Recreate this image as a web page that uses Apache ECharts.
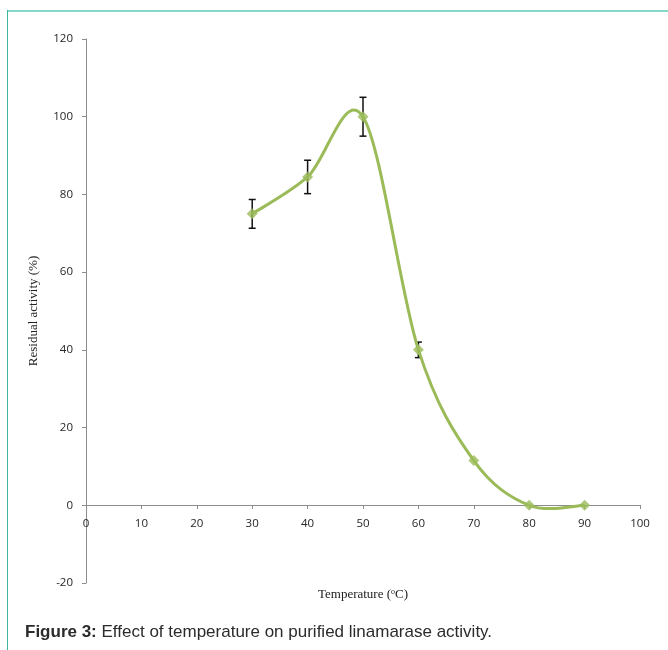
<!DOCTYPE html>
<html>
<head>
<meta charset="utf-8">
<script src="https://cdn.jsdelivr.net/npm/echarts@6/dist/echarts.min.js"></script>
<style>
  html, body { margin: 0; padding: 0; background: #fff; }
  #chart { width: 668px; height: 650px; }
</style>
</head>
<body>
<div id="chart"></div>
<script>
// Temperatures tested (°C) and residual linamarase activity (%)
var temperatures = [30, 40, 50, 60, 70, 80, 90];
var activity = [75, 84.5, 100, 40, 11.5, 0, 0];
var activityError = [3.7, 4.3, 5, 2, 0, 0, 0];

var xTicks = { min: 0, max: 100, interval: 10 };
var yTicks = { min: -20, max: 120, interval: 20 };

var points = temperatures.map(function (t, i) { return [t, activity[i]]; });
var errorData = temperatures
  .map(function (t, i) { return [t, activity[i] - activityError[i], activity[i] + activityError[i]]; })
  .filter(function (d, i) { return activityError[i] > 0; });

var green = '#9bbb59';
var axisGray = '#8c8c8c';
var tickFont = { fontFamily: 'Open Sans, Liberation Sans, sans-serif', fontSize: 11.5, color: '#262626' };
var serifName = { fontFamily: 'Liberation Serif, Times New Roman, serif', fontSize: 13, color: '#222' };

// Cardinal-spline segment between point i and i+1 (tension 1/6), endpoints duplicated
function segmentControls(i) {
  var p0 = points[Math.max(i - 1, 0)];
  var p1 = points[i];
  var p2 = points[i + 1];
  var p3 = points[Math.min(i + 2, points.length - 1)];
  return [
    [p1[0] + (p2[0] - p0[0]) / 6, p1[1] + (p2[1] - p0[1]) / 6],
    [p2[0] - (p3[0] - p1[0]) / 6, p2[1] - (p3[1] - p1[1]) / 6]
  ];
}

var chart = echarts.init(document.getElementById('chart'), null, { renderer: 'canvas' });

chart.setOption({
  animation: false,
  backgroundColor: '#fff',
  grid: [
    // full plotting area, -20 .. 120
    { left: 86, right: 28, top: 39, bottom: 67, outerBoundsMode: 'none' },
    // same width, its bottom edge sits on the zero line and carries the x axis
    { left: 86, right: 28, top: 39, bottom: 145, outerBoundsMode: 'none' }
  ],
  xAxis: [
    {
      gridIndex: 0,
      type: 'value',
      min: xTicks.min, max: xTicks.max, interval: xTicks.interval,
      axisLine: { show: false },
      axisTick: { show: false },
      axisLabel: { show: false },
      splitLine: { show: false },
      name: 'Temperature ({sup|o}C)',
      nameLocation: 'middle',
      nameGap: 5,
      nameTextStyle: Object.assign({}, serifName, {
        verticalAlign: 'top',
        rich: { sup: { fontFamily: 'Liberation Serif, serif', fontSize: 8, verticalAlign: 'top', padding: [0, 0, 5, 0], color: '#222' } }
      })
    },
    {
      gridIndex: 1,
      type: 'value',
      position: 'bottom',
      min: xTicks.min, max: xTicks.max, interval: xTicks.interval,
      axisLine: { show: true, onZero: false, lineStyle: { color: axisGray, width: 1 } },
      axisTick: { show: true, length: 4, lineStyle: { color: axisGray } },
      axisLabel: Object.assign({ margin: 13 }, tickFont),
      splitLine: { show: false }
    }
  ],
  yAxis: [
    {
      gridIndex: 0,
      type: 'value',
      min: yTicks.min, max: yTicks.max, interval: yTicks.interval,
      axisLine: { show: true, onZero: false, lineStyle: { color: axisGray, width: 1 } },
      axisTick: { show: true, length: 4, lineStyle: { color: axisGray } },
      axisLabel: Object.assign({ margin: 13 }, tickFont),
      splitLine: { show: false },
      name: 'Residual activity (%)',
      nameLocation: 'middle',
      nameGap: 46,
      nameTextStyle: serifName
    },
    {
      gridIndex: 1,
      type: 'value',
      min: 0, max: yTicks.max,
      show: false
    }
  ],
  series: [
    {
      // error bars, drawn beneath the curve markers
      type: 'custom',
      xAxisIndex: 0, yAxisIndex: 0,
      data: errorData,
      z: 2,
      renderItem: function (params, api) {
        var x = api.value(0);
        var lo = api.coord([x, api.value(1)]);
        var hi = api.coord([x, api.value(2)]);
        var cap = 3.5;
        var style = { stroke: '#111', lineWidth: 1.5 };
        return {
          type: 'group',
          children: [
            { type: 'line', shape: { x1: hi[0], y1: hi[1], x2: lo[0], y2: lo[1] }, style: style },
            { type: 'line', shape: { x1: hi[0] - cap, y1: hi[1], x2: hi[0] + cap, y2: hi[1] }, style: style },
            { type: 'line', shape: { x1: lo[0] - cap, y1: lo[1], x2: lo[0] + cap, y2: lo[1] }, style: style }
          ]
        };
      }
    },
    {
      // smoothed curve through the measured points
      type: 'custom',
      xAxisIndex: 0, yAxisIndex: 0,
      data: points,
      z: 3,
      clip: false,
      renderItem: function (params, api) {
        var i = params.dataIndex;
        if (i >= points.length - 1) return null;
        var cps = segmentControls(i);
        var a = api.coord(points[i]);
        var b = api.coord(points[i + 1]);
        var c1 = api.coord(cps[0]);
        var c2 = api.coord(cps[1]);
        return {
          type: 'bezierCurve',
          shape: { x1: a[0], y1: a[1], x2: b[0], y2: b[1], cpx1: c1[0], cpy1: c1[1], cpx2: c2[0], cpy2: c2[1] },
          style: { stroke: green, lineWidth: 3, fill: null }
        };
      }
    },
    {
      type: 'scatter',
      xAxisIndex: 0, yAxisIndex: 0,
      data: points,
      symbol: 'diamond',
      symbolSize: 11,
      itemStyle: { color: green },
      z: 4
    }
  ],
  graphic: [
    { type: 'rect', shape: { x: 7, y: 10, width: 661, height: 2 }, style: { fill: '#84d9c9' } },
    { type: 'rect', shape: { x: 7, y: 10, width: 1, height: 640 }, style: { fill: '#3db5a3' } },
    {
      type: 'text', left: 25, top: 624,
      style: {
        text: '{b|Figure 3:} Effect of temperature on purified linamarase activity.',
        font: '17px Liberation Sans, Arial, sans-serif',
        fill: '#2b2b2b',
        rich: {
          b: { fontWeight: 'bold', fontSize: 17, fontFamily: 'Liberation Sans, Arial, sans-serif', fill: '#2b2b2b' }
        }
      }
    }
  ]
});
</script>
</body>
</html>
